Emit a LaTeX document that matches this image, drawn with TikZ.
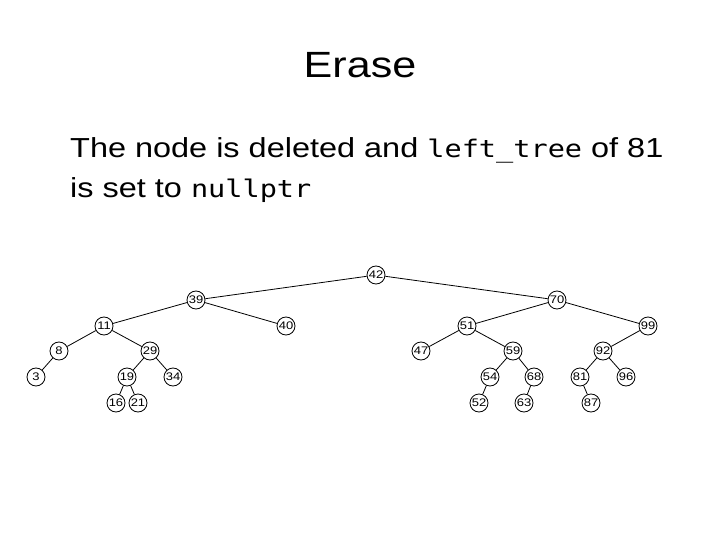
\documentclass[tikz,border=0pt]{standalone}
\usepackage{fontspec}
\setmainfont{Liberation Sans}[FakeStretch=1.18]
\newfontfamily\codefont{DejaVu Sans Mono}[FakeStretch=1.18,Scale=0.88]
\usetikzlibrary{positioning}

\tikzset{
  treenode/.style={draw,circle,line width=0.8pt,inner sep=0pt,minimum size=18pt,
        font=\fontsize{11}{13}\selectfont},
  treeedge/.style={draw,line width=0.8pt}
}

\begin{document}
\begin{tikzpicture}[x=1pt,y=-1pt]
  \useasboundingbox (0,0) rectangle (720,540);

  % title and text
  \node (title) [anchor=base,inner sep=0pt,font=\fontsize{36.5}{42}\selectfont]
        at (360,78) {Erase};
  \node (lineone) [anchor=base west,inner sep=0pt,font=\fontsize{27.5}{32}\selectfont]
        at (70,158) {The node is deleted and {\codefont left\_tree} of 81};
  \node (linetwo) [anchor=base west,inner sep=0pt,font=\fontsize{27.5}{32}\selectfont]
        at (70,197) {is set to {\codefont nullptr}};

  % tree nodes
  \node[treenode] (n42) at (376,275) {42};
  \node[treenode] (n39) at (196,300) {39};
  \node[treenode] (n70) at (557,300) {70};
  \node[treenode] (n11) at (104,326) {11};
  \node[treenode] (n40) at (286,326) {40};
  \node[treenode] (n51) at (467,326) {51};
  \node[treenode] (n99) at (648,326) {99};
  \node[treenode] (n8)  at (59,351)  {8};
  \node[treenode] (n29) at (150,351) {29};
  \node[treenode] (n47) at (421,351) {47};
  \node[treenode] (n59) at (513,351) {59};
  \node[treenode] (n92) at (603,351) {92};
  \node[treenode] (n3)  at (36,377)  {3};
  \node[treenode] (n19) at (127,377) {19};
  \node[treenode] (n34) at (173,377) {34};
  \node[treenode] (n54) at (490,377) {54};
  \node[treenode] (n68) at (534,377) {68};
  \node[treenode] (n81) at (580,377) {81};
  \node[treenode] (n96) at (626,377) {96};
  \node[treenode] (n16) at (116,403) {16};
  \node[treenode] (n21) at (138,403) {21};
  \node[treenode] (n52) at (479,403) {52};
  \node[treenode] (n63) at (524,403) {63};
  \node[treenode] (n87) at (591,403) {87};

  % tree edges
  \foreach \a/\b in {42/39,42/70,39/11,39/40,11/8,11/29,8/3,29/19,29/34,
                     19/16,19/21,70/51,70/99,51/47,51/59,59/54,59/68,
                     54/52,68/63,99/92,92/81,92/96,81/87}
    \path[treeedge] (n\a) -- (n\b);
\end{tikzpicture}
\end{document}
